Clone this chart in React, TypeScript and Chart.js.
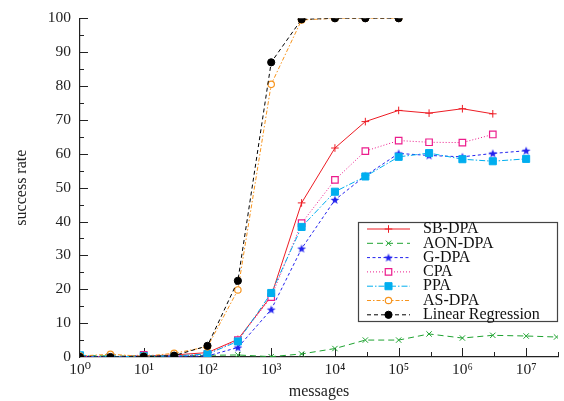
import React, { useEffect, useRef } from 'react';
import { Chart, registerables } from 'chart.js';
import { drawPoint } from 'chart.js/helpers';

Chart.register(...registerables);

const MESSAGES = [1, 3, 10, 30, 100, 300, 1e3, 3e3, 1e4, 3e4, 1e5, 3e5, 1e6, 3e6, 1e7, 3e7];
const X_TICKS = [1, 10, 100, 1e3, 1e4, 1e5, 1e6, 1e7];
const X_TICK_LABELS = ['10⁰', '10¹', '10²', '10³', '10⁴', '10⁵', '10⁶', '10⁷'];

const SB_DPA = [0, 0, 0.3, 0.6, 1.3, 5.2, 18, 45.5, 61.7, 69.5, 72.8, 72.0, 73.3, 71.8];
const AON_DPA = [0.5, 0.3, 0.3, 0.3, 0.5, 0.6, 0.1, 0.9, 2.5, 5.0, 5.0, 6.8, 5.6, 6.4, 6.2, 5.9];
const G_DPA = [0.2, 0, 0.3, 0.2, 0.3, 2.8, 14, 32, 46.4, 53.5, 60.1, 59.5, 59.1, 60.1, 60.9];
const CPA = [0.3, 0, 0.6, 0.2, 0.8, 5.0, 17.7, 39.5, 52.3, 60.8, 63.9, 63.4, 63.3, 65.7];
const PPA = [0.5, 0, 0.3, 0.3, 0.9, 4.6, 18.9, 38.4, 48.8, 53.3, 59.1, 60.2, 58.4, 57.8, 58.5];
const AS_DPA = [0.3, 0.8, 0.2, 1.1, 3.0, 19.8, 80.5, 99.5, 100, 100, 100];
const LINEAR_REGRESSION = [0, 0, 0.1, 0.4, 3.3, 22.5, 87, 99.7, 100, 100, 100];

const SERIES_NAMES = ['SB-DPA', 'AON-DPA', 'G-DPA', 'CPA', 'PPA', 'AS-DPA', 'Linear Regression'];
const SERIES_VALUES = [SB_DPA, AON_DPA, G_DPA, CPA, PPA, AS_DPA, LINEAR_REGRESSION];

const FONT = '"Liberation Serif", "DejaVu Serif", serif';

function makeStar(color: string) {
  const c = document.createElement('canvas');
  c.width = 12;
  c.height = 12;
  const g = c.getContext('2d')!;
  g.fillStyle = color;
  g.beginPath();
  for (let k = 0; k < 10; k++) {
    const r = k % 2 === 0 ? 4.6 : 1.9;
    const a = -Math.PI / 2 + (k * Math.PI) / 5;
    const px = 6 + r * Math.cos(a);
    const py = 6.4 + r * Math.sin(a);
    if (k === 0) g.moveTo(px, py);
    else g.lineTo(px, py);
  }
  g.closePath();
  g.fill();
  return c;
}

const inwardTicks = {
  id: 'inwardTicks',
  beforeDatasetsDraw(chart: any) {
    const { ctx, chartArea, scales } = chart;
    const xs = scales.x;
    const ys = scales.y;
    ctx.save();
    ctx.strokeStyle = '#222';
    ctx.lineWidth = 1;
    for (let e = 1; e <= 15; e++) {
      const v = Math.pow(10, e / 2);
      if (v > xs.max * 1.0001) break;
      const px = Math.round(xs.getPixelForValue(v)) + 0.5;
      const len = e % 2 === 0 ? 9 : 5;
      ctx.beginPath();
      ctx.moveTo(px, chartArea.bottom);
      ctx.lineTo(px, chartArea.bottom - len);
      ctx.stroke();
    }
    for (let v = 5; v <= 100; v += 5) {
      const py = Math.round(ys.getPixelForValue(v)) + 0.5;
      const len = v % 10 === 0 ? 8 : 4;
      ctx.beginPath();
      ctx.moveTo(chartArea.left, py);
      ctx.lineTo(chartArea.left + len, py);
      ctx.stroke();
    }
    ctx.restore();
  },
};

const boxLegend = {
  id: 'boxLegend',
  afterDraw(chart: any) {
    const { ctx, chartArea } = chart;
    const left = 358.5;
    const top = 222.5;
    const right = chartArea.right - 0.5;
    const bottom = 321.5;
    ctx.save();
    ctx.fillStyle = '#fff';
    ctx.fillRect(left, top, right - left, bottom - top);
    ctx.strokeStyle = '#444';
    ctx.lineWidth = 1.2;
    ctx.strokeRect(left, top, right - left, bottom - top);
    const step = 14.3;
    chart.data.datasets.forEach((ds: any, i: number) => {
      const y = 229 + i * step;
      ctx.save();
      ctx.strokeStyle = ds.borderColor;
      ctx.lineWidth = ds.borderWidth;
      ctx.setLineDash(ds.borderDash || []);
      ctx.beginPath();
      ctx.moveTo(367, y);
      ctx.lineTo(410, y);
      ctx.stroke();
      ctx.setLineDash([]);
      ctx.fillStyle = ds.pointBackgroundColor;
      ctx.strokeStyle = ds.pointBorderColor;
      ctx.lineWidth = ds.pointBorderWidth;
      drawPoint(ctx, { pointStyle: ds.pointStyle, radius: ds.pointRadius, rotation: 0, borderWidth: ds.pointBorderWidth }, 388.5, y);
      ctx.restore();
      ctx.fillStyle = '#111';
      ctx.font = `16px ${FONT}`;
      ctx.textBaseline = 'middle';
      ctx.textAlign = 'left';
      ctx.fillText(SERIES_NAMES[i], 423, y);
    });
    ctx.restore();
  },
};

export default function App() {
  const ref = useRef<HTMLCanvasElement>(null);
  useEffect(() => {
    document.body.style.margin = '0';
    const star = makeStar('#2222ee');
    const styles = [
      { color: '#ed1c24', dash: [], pointStyle: 'cross', radius: 3.8, bg: '#ed1c24', bw: 1 },
      { color: '#1fa331', dash: [6, 4], pointStyle: 'crossRot', radius: 3.8, bg: '#1fa331', bw: 1 },
      { color: '#2222ee', dash: [3, 2.5], pointStyle: star, radius: 5, bg: '#2222ee', bw: 1 },
      { color: '#ec1c8c', dash: [1, 2], pointStyle: 'rect', radius: 4.6, bg: '#ffffff', bw: 1.2 },
      { color: '#00aeef', dash: [6, 2, 1.5, 2], pointStyle: 'rect', radius: 5, bg: '#00aeef', bw: 1 },
      { color: '#f7941d', dash: [4, 2, 1.5, 2], pointStyle: 'circle', radius: 3.2, bg: '#ffffff', bw: 1.2 },
      { color: '#000000', dash: [4, 3], pointStyle: 'circle', radius: 3.6, bg: '#000000', bw: 1 },
    ];
    const n = SERIES_VALUES.length;
    const datasets = SERIES_VALUES.map((vals, i) => ({
      label: SERIES_NAMES[i],
      data: vals.map((v, j) => ({ x: MESSAGES[j], y: v })),
      borderColor: styles[i].color,
      borderWidth: 1,
      borderDash: styles[i].dash,
      pointStyle: styles[i].pointStyle,
      pointRadius: styles[i].radius,
      pointBackgroundColor: styles[i].bg,
      pointBorderColor: styles[i].color,
      pointBorderWidth: styles[i].bw,
      fill: false,
      tension: 0,
      order: n - i,
    }));
    const chart = new Chart(ref.current!, {
      type: 'line',
      data: { datasets },
      plugins: [inwardTicks, boxLegend],
      options: {
        animation: false,
        responsive: false,
        devicePixelRatio: 1,
        events: [],
        layout: { padding: { top: 17, right: 2, left: 0, bottom: 0 } },
        plugins: { legend: { display: false }, tooltip: { enabled: false } },
        scales: {
          x: {
            type: 'logarithmic',
            min: 1,
            max: Math.pow(10, 7.5),
            grid: { display: false, drawTicks: false },
            border: { display: true, color: '#222', width: 1.2 },
            afterBuildTicks: (scale: any) => {
              scale.ticks = X_TICKS.map((v) => ({ value: v }));
            },
            afterFit: (scale: any) => {
              scale.height = 44;
            },
            ticks: {
              autoSkip: false,
              maxRotation: 0,
              padding: 4,
              color: '#222',
              font: { family: FONT, size: 15.5 },
              callback: (value: any) => {
                const idx = X_TICKS.indexOf(Number(value));
                return idx >= 0 ? X_TICK_LABELS[idx] : '';
              },
            },
            title: {
              display: true,
              text: 'messages',
              color: '#222',
              font: { family: FONT, size: 16 },
              padding: { top: 0, bottom: 0 },
            },
          },
          y: {
            type: 'linear',
            min: 0,
            max: 100,
            grid: { display: false, drawTicks: false },
            border: { display: true, color: '#222', width: 1.2 },
            afterFit: (scale: any) => {
              scale.width = 80;
            },
            ticks: {
              stepSize: 10,
              padding: 9,
              color: '#222',
              font: { family: FONT, size: 15.5 },
            },
            title: {
              display: true,
              text: 'success rate',
              color: '#222',
              font: { family: FONT, size: 16 },
              padding: { top: 12, bottom: 0 },
            },
          },
        },
      },
    } as any);
    return () => chart.destroy();
  }, []);
  return <canvas ref={ref} width={564} height={401} style={{ display: 'block' }} />;
}
